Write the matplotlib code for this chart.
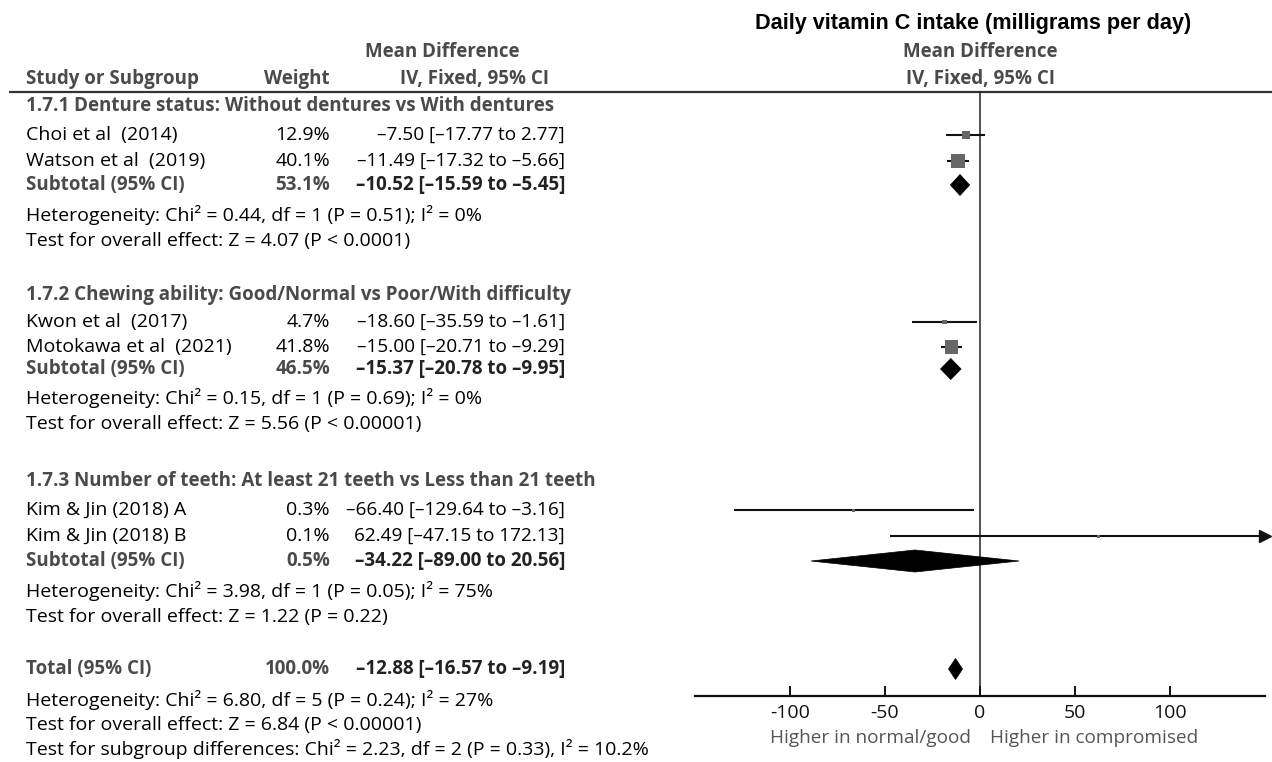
import matplotlib
matplotlib.use("Agg")
import matplotlib.pyplot as plt
from matplotlib.patches import Polygon
import numpy as np

# ---------------- data ----------------
title = "Daily vitamin C intake (milligrams per day)"
group_titles = ["1.7.1 Denture status: Without dentures vs With dentures",
                "1.7.2 Chewing ability: Good/Normal vs Poor/With difficulty",
                "1.7.3 Number of teeth: At least 21 teeth vs Less than 21 teeth"]
studies = ["Choi et al  (2014)", "Watson et al  (2019)",
           "Kwon et al  (2017)", "Motokawa et al  (2021)",
           "Kim & Jin (2018) A", "Kim & Jin (2018) B"]
study_group = [0, 0, 1, 1, 2, 2]
weights = [12.9, 40.1, 4.7, 41.8, 0.3, 0.1]
md = [-7.50, -11.49, -18.60, -15.00, -66.40, 62.49]
ci_lo = [-17.77, -17.32, -35.59, -20.71, -129.64, -47.15]
ci_hi = [2.77, -5.66, -1.61, -9.29, -3.16, 172.13]

sub_weights = [53.1, 46.5, 0.5]
sub_md = [-10.52, -15.37, -34.22]
sub_lo = [-15.59, -20.78, -89.00]
sub_hi = [-5.45, -9.95, 20.56]
sub_het = ["Heterogeneity: Chi\u00b2 = 0.44, df = 1 (P = 0.51); I\u00b2 = 0%",
           "Heterogeneity: Chi\u00b2 = 0.15, df = 1 (P = 0.69); I\u00b2 = 0%",
           "Heterogeneity: Chi\u00b2 = 3.98, df = 1 (P = 0.05); I\u00b2 = 75%"]
sub_test = ["Test for overall effect: Z = 4.07 (P < 0.0001)",
            "Test for overall effect: Z = 5.56 (P < 0.00001)",
            "Test for overall effect: Z = 1.22 (P = 0.22)"]

total_weight = 100.0
total_md = -12.88
total_lo = -16.57
total_hi = -9.19
total_notes = ["Heterogeneity: Chi\u00b2 = 6.80, df = 5 (P = 0.24); I\u00b2 = 27%",
               "Test for overall effect: Z = 6.84 (P < 0.00001)",
               "Test for subgroup differences: Chi\u00b2 = 2.23, df = 2 (P = 0.33), I\u00b2 = 10.2%"]

xticks = [-100, -50, 0, 50, 100]
xlim = (-150, 150)
left_label = "Higher in normal/good"
right_label = "Higher in compromised"

# ---------------- layout (pixel rows) ----------------
W, H = 1272, 762
group_rows = [106, 295, 481]
study_rows = [135, 161, 322, 347, 510, 536]
sub_rows = [185, 369, 561]
het_rows = [215, 398, 591]
test_rows = [241, 424, 617]
total_row = 669
total_note_rows = [700, 725, 749]

FAM = ['Open Sans', 'Liberation Sans', 'DejaVu Sans']
TFAM = ['Liberation Sans', 'DejaVu Sans']
HDR = '#4a4a4a'
FS = 14
FSB = 13.5

def fmt(v):
    return f"{v:.2f}".replace('-', '\u2013')

def ci_text(m, lo, hi):
    return f"{fmt(m)} [{fmt(lo)} to {fmt(hi)}]"

fig = plt.figure(figsize=(W / 100, H / 100), dpi=100)
fig.patch.set_facecolor('white')

# text overlay in pixel coordinates
tx = fig.add_axes([0, 0, 1, 1])
tx.set_xlim(0, W)
tx.set_ylim(H, 0)
tx.axis('off')

x_lab = 26
x_w = 330
x_ci = 565

tx.text(973, 24, title, ha='center', va='center', fontsize=15.6, fontweight='bold',
        family=TFAM, color='black')
tx.text(442, 52, "Mean Difference", ha='center', va='center', fontsize=FSB,
        fontweight='bold', family=FAM, color=HDR)
tx.text(980, 52, "Mean Difference", ha='center', va='center', fontsize=FSB,
        fontweight='bold', family=FAM, color=HDR)
tx.text(x_lab, 79, "Study or Subgroup", ha='left', va='center', fontsize=FSB,
        fontweight='bold', family=FAM, color=HDR)
tx.text(x_w, 79, "Weight", ha='right', va='center', fontsize=FSB,
        fontweight='bold', family=FAM, color=HDR)
tx.text(475, 79, "IV, Fixed, 95% CI", ha='center', va='center', fontsize=FSB,
        fontweight='bold', family=FAM, color=HDR)
tx.text(980, 79, "IV, Fixed, 95% CI", ha='center', va='center', fontsize=FSB,
        fontweight='bold', family=FAM, color=HDR)
tx.plot([9, W], [92, 92], color='#333333', lw=1.6, solid_capstyle='butt')

for g in range(3):
    tx.text(x_lab, group_rows[g], group_titles[g], ha='left', va='center', fontsize=FSB,
            fontweight='bold', family=FAM, color=HDR)
    tx.text(x_lab, sub_rows[g], "Subtotal (95% CI)", ha='left', va='center', fontsize=FSB,
            fontweight='bold', family=FAM, color=HDR)
    tx.text(x_w, sub_rows[g], f"{sub_weights[g]:.1f}%", ha='right', va='center', fontsize=FSB,
            fontweight='bold', family=FAM, color=HDR)
    tx.text(x_ci, sub_rows[g], ci_text(sub_md[g], sub_lo[g], sub_hi[g]), ha='right',
            va='center', fontsize=FSB, fontweight='bold', family=FAM, color='#222222')
    tx.text(x_lab, het_rows[g], sub_het[g], ha='left', va='center', fontsize=FS,
            family=FAM, color='black')
    tx.text(x_lab, test_rows[g], sub_test[g], ha='left', va='center', fontsize=FS,
            family=FAM, color='black')

for i, s in enumerate(studies):
    y = study_rows[i]
    tx.text(x_lab, y, s, ha='left', va='center', fontsize=FS, family=FAM, color='black')
    tx.text(x_w, y, f"{weights[i]:.1f}%", ha='right', va='center', fontsize=FS,
            family=FAM, color='black')
    tx.text(x_ci, y, ci_text(md[i], ci_lo[i], ci_hi[i]), ha='right', va='center',
            fontsize=FS - 0.3, family=FAM, color='black')

tx.text(x_lab, total_row, "Total (95% CI)", ha='left', va='center', fontsize=FSB,
        fontweight='bold', family=FAM, color=HDR)
tx.text(x_w, total_row, f"{total_weight:.1f}%", ha='right', va='center', fontsize=FSB,
        fontweight='bold', family=FAM, color=HDR)
tx.text(x_ci, total_row, ci_text(total_md, total_lo, total_hi), ha='right', va='center',
        fontsize=FSB, fontweight='bold', family=FAM, color='#222222')
for r, t in zip(total_note_rows, total_notes):
    tx.text(x_lab, r, t, ha='left', va='center', fontsize=FS, family=FAM, color='black')

tx.text(971, 738, left_label, ha='right', va='center', fontsize=13.7, family=FAM, color='#555555')
tx.text(990, 738, right_label, ha='left', va='center', fontsize=13.7, family=FAM, color='#555555')

# forest axes
ax_left, ax_right = 695, 1265
ax = fig.add_axes([ax_left / W, 0, (ax_right - ax_left) / W, 1])
ax.set_xlim(*xlim)
ax.set_ylim(H, 0)
ax.patch.set_alpha(0)
for sp in ['top', 'right', 'left']:
    ax.spines[sp].set_visible(False)
ax.spines['bottom'].set_position(('data', 696))
ax.spines['bottom'].set_linewidth(1.6)
ax.spines['bottom'].set_color('#111111')
ax.set_yticks([])
ax.set_xticks(xticks)
ax.set_xticklabels([str(t) for t in xticks])
ax.tick_params(axis='x', direction='in', length=7, width=1.4, pad=6, labelsize=14,
               colors='#111111')
for lab in ax.get_xticklabels():
    lab.set_family(FAM)

# zero line
ax.plot([0, 0], [92, 696], color='#222222', lw=1.1, zorder=1)

# studies
for i in range(len(studies)):
    y = study_rows[i]
    hi = min(ci_hi[i], xlim[1])
    ax.plot([ci_lo[i], hi], [y, y], color='#111111', lw=1.5, zorder=2, solid_capstyle='butt')
    if ci_hi[i] > xlim[1]:
        ax.plot([xlim[1]], [y], marker='>', color='#111111', markersize=8, clip_on=False, zorder=3)
    side = max(3.0, 2.15 * np.sqrt(weights[i]))
    ax.scatter([md[i]], [y], marker='s', s=(side * 0.72) ** 2, color='#666666',
               edgecolors='none', zorder=4)

# diamonds
def diamond(m, lo, hi, y, h=10.5):
    ax.add_patch(Polygon([[lo, y], [m, y - h], [hi, y], [m, y + h]], closed=True,
                         facecolor='black', edgecolor='black', lw=0.5, zorder=4))

for g in range(3):
    diamond(sub_md[g], sub_lo[g], sub_hi[g], sub_rows[g], h=11 if g == 2 else 10.5)
diamond(total_md, total_lo, total_hi, total_row)

fig.savefig("out.png", dpi=100, facecolor='white')
